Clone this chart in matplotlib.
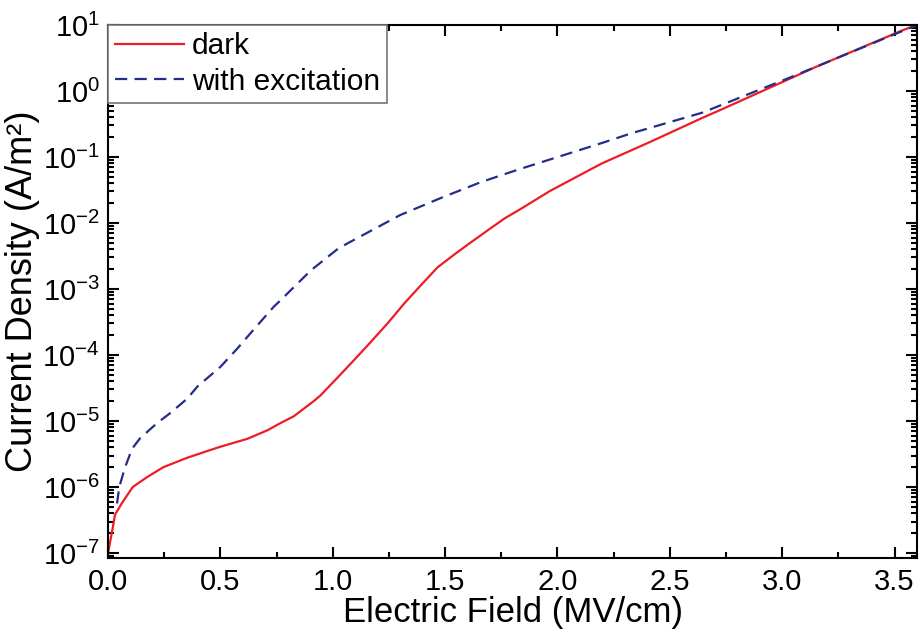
import matplotlib
matplotlib.use("Agg")
import matplotlib.pyplot as plt
import numpy as np
from matplotlib.ticker import LogLocator, MultipleLocator, NullFormatter

plt.rcParams["font.family"] = ["Liberation Sans", "DejaVu Sans"]
plt.rcParams["mathtext.fontset"] = "custom"
plt.rcParams["mathtext.rm"] = "Liberation Sans"
plt.rcParams["mathtext.default"] = "regular"

# dark current: field (MV/cm) and log10 of current density (A/m^2)
dark_field = [0.0, 0.022, 0.031, 0.0625, 0.11, 0.174, 0.246, 0.35, 0.455, 0.5,
              0.62, 0.71, 0.768, 0.826, 0.915, 0.946, 1.022, 1.094, 1.17, 1.244,
              1.318, 1.393, 1.467, 1.54, 1.616, 1.69, 1.765, 1.84, 1.964, 2.196,
              2.42, 2.643, 2.73, 3.147, 3.536, 3.6]
dark_log = [-7.0, -6.6, -6.42, -6.24, -6.0, -5.85, -5.70, -5.56, -5.44, -5.39,
            -5.27, -5.14, -5.03, -4.93, -4.70, -4.61, -4.34, -4.08, -3.80, -3.52,
            -3.22, -2.94, -2.67, -2.48, -2.29, -2.11, -1.93, -1.78, -1.52, -1.10,
            -0.76, -0.41, -0.28, 0.36, 0.92, 1.0]

# with excitation
exc_field = [0.04, 0.05, 0.076, 0.107, 0.143, 0.219, 0.277, 0.353, 0.397, 0.5,
             0.576, 0.634, 0.737, 0.768, 0.902, 1.027, 1.125, 1.30, 1.482, 1.66,
             1.826, 2.196, 2.33, 2.643, 3.03, 3.415, 3.6]
exc_log = [-6.25, -6.0, -5.70, -5.42, -5.26, -5.03, -4.88, -4.66, -4.48, -4.18,
           -3.90, -3.67, -3.27, -3.17, -2.72, -2.38, -2.20, -1.88, -1.62, -1.38,
           -1.19, -0.79, -0.64, -0.33, 0.197, 0.74, 1.0]

fig = plt.figure(figsize=(9.21, 6.37), dpi=100)
ax = fig.add_axes([0.1173, 0.124, 0.8784, 0.8368])

ax.plot(dark_field, 10 ** np.array(dark_log), color="#ee1c25", lw=1.6, label="dark")
ax.plot(exc_field, 10 ** np.array(exc_log), color="#232d8a", lw=1.6,
        dashes=(5.5, 3.3), label="with excitation")

ax.set_yscale("log")
ax.set_xlim(0, 3.6)
ax.set_ylim(10 ** -7.076, 10)
ax.xaxis.set_major_locator(MultipleLocator(0.5))
ax.xaxis.set_minor_locator(MultipleLocator(0.25))
ax.yaxis.set_major_locator(LogLocator(base=10, numticks=20))
ax.yaxis.set_minor_locator(LogLocator(base=10, subs=np.arange(2, 10), numticks=20))
ax.yaxis.set_minor_formatter(NullFormatter())

ax.tick_params(which="both", direction="in", top=True, right=True, width=1.5,
               labelsize=21)
ax.tick_params(which="major", length=8)
ax.tick_params(which="minor", length=4.5)
ax.tick_params(axis="x", pad=7)
ax.tick_params(axis="y", pad=6)
for s in ax.spines.values():
    s.set_linewidth(1.5)

ax.set_xlabel("Electric Field (MV/cm)", fontsize=25, labelpad=0)
ax.set_ylabel("Current Density (A/m²)", fontsize=26, labelpad=2)

leg = ax.legend(loc="upper left", fontsize=21.5, borderaxespad=0, fancybox=False,
                edgecolor="#777777", framealpha=1, handlelength=2.3,
                handletextpad=0.25, borderpad=0.25, labelspacing=0.25)
leg.get_frame().set_linewidth(1.2)

fig.savefig("out.png", dpi=100)
